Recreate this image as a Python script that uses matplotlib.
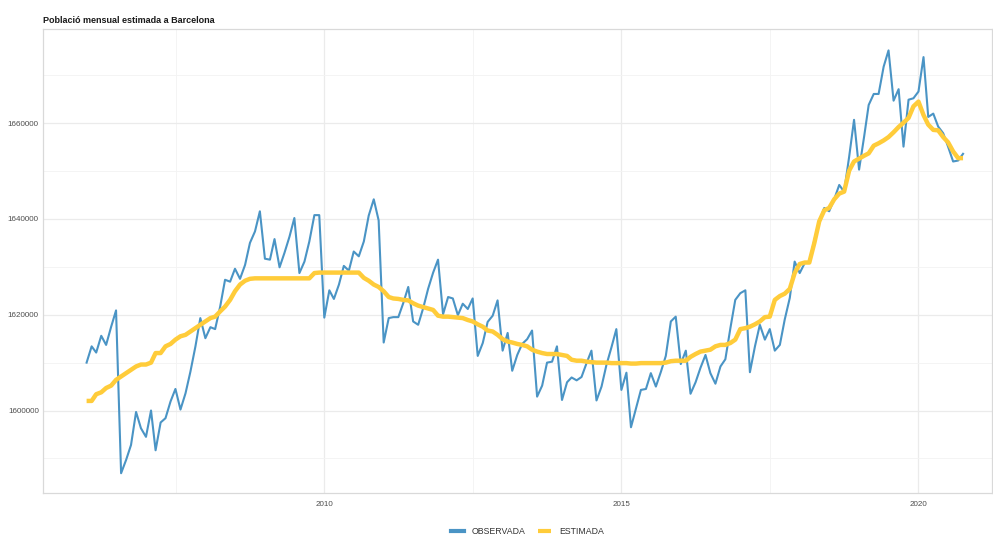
import matplotlib
matplotlib.use("Agg")
import matplotlib.pyplot as plt
import pandas as pd

plt.rcParams['font.family'] = ['Liberation Sans', 'DejaVu Sans']

# monthly series, Jan 2006 - Oct 2020
start_month = "2006-01-01"

observada = [
    1610000, 1613400, 1612100, 1615600, 1613700, 1617500, 1620900, 1586900, 1589700, 1592800, 1599700, 1596300,
    1594500, 1600000, 1591700, 1597500, 1598400, 1601900, 1604500, 1600200, 1603600, 1608100, 1613400, 1619300,
    1615100, 1617400, 1617000, 1621700, 1627300, 1626900, 1629600, 1627500, 1630400, 1635000, 1637400, 1641600,
    1631700, 1631500, 1635800, 1629900, 1632900, 1636300, 1640200, 1628700, 1631100, 1635300, 1640800, 1640800,
    1619400, 1625100, 1623300, 1626300, 1630200, 1629200, 1633200, 1632200, 1635300, 1640700, 1644100, 1639700,
    1614200, 1619300, 1619500, 1619500, 1622400, 1625800, 1618600, 1617900, 1621400, 1625400, 1628800, 1631500,
    1620100, 1623700, 1623400, 1619900, 1622300, 1621200, 1623400, 1611400, 1614100, 1618500, 1619800, 1623000,
    1612500, 1616200, 1608300, 1611600, 1613900, 1614900, 1616700, 1602900, 1605200, 1610000, 1610200, 1613400,
    1602200, 1605900, 1606900, 1606300, 1607000, 1609900, 1612500, 1602100, 1605000, 1609500, 1613200, 1617000,
    1604300, 1607900, 1596500, 1600500, 1604300, 1604500, 1607800, 1605000, 1608100, 1611400, 1618600, 1619600,
    1609700, 1612500, 1603500, 1605900, 1608900, 1611600, 1607800, 1605600, 1609200, 1610700, 1617200, 1623100,
    1624500, 1625100, 1608000, 1613400, 1617900, 1614800, 1617000, 1612500, 1613700, 1619000, 1623500, 1631100,
    1628700, 1630800, 1630900, 1635600, 1639500, 1642300, 1641600, 1644100, 1647100, 1645700, 1653000, 1660700,
    1650300, 1657200, 1663800, 1666100, 1666100, 1671800, 1675200, 1664700, 1667100, 1655100, 1664900, 1665200,
    1666600, 1673800, 1661300, 1662000, 1659300, 1657900, 1655100, 1652000, 1652200, 1653600,
]

estimada = [
    1602000, 1602000, 1603400, 1603800, 1604700, 1605200, 1606400, 1607100, 1607800, 1608500, 1609200, 1609600,
    1609600, 1610000, 1612000, 1612000, 1613400, 1613900, 1614800, 1615500, 1615800, 1616500, 1617200, 1617900,
    1618600, 1619300, 1619600, 1620700, 1621700, 1623100, 1624900, 1626300, 1627100, 1627500, 1627600, 1627600,
    1627600, 1627600, 1627600, 1627600, 1627600, 1627600, 1627600, 1627600, 1627600, 1627600, 1628700, 1628800,
    1628800, 1628800, 1628800, 1628800, 1628800, 1628800, 1628800, 1628800, 1627700, 1627100, 1626300, 1625800,
    1624900, 1623700, 1623400, 1623300, 1623100, 1623000, 1622400, 1621900, 1621600, 1621300, 1621000, 1619800,
    1619600, 1619600, 1619500, 1619400, 1619300, 1618900, 1618600, 1618000, 1617500, 1616700, 1616500, 1615800,
    1614900, 1614400, 1614200, 1613900, 1613700, 1613400, 1612700, 1612300, 1612000, 1611800, 1611800, 1611800,
    1611600, 1611400, 1610600, 1610400, 1610400, 1610200, 1610100, 1610000, 1610000, 1610000, 1609900, 1609900,
    1609900, 1609900, 1609800, 1609800, 1609900, 1609900, 1609900, 1609900, 1609900, 1610000, 1610300, 1610400,
    1610400, 1610400, 1611200, 1611800, 1612300, 1612500, 1612700, 1613400, 1613700, 1613700, 1614100, 1614800,
    1617000, 1617200, 1617500, 1618000, 1618600, 1619500, 1619600, 1623100, 1623900, 1624400, 1625400, 1628700,
    1630600, 1630900, 1630900, 1635000, 1639500, 1641800, 1642300, 1644100, 1645300, 1645700, 1650100, 1652000,
    1652600, 1653200, 1653700, 1655300, 1655800, 1656400, 1657100, 1658100, 1659200, 1660100, 1661100, 1663500,
    1664500, 1661700, 1659700, 1658600, 1658500, 1657100, 1656000, 1654100, 1652700, 1652700,
]

y_ticks = [1600000, 1620000, 1640000, 1660000]
y_minor = [1590000, 1610000, 1630000, 1650000, 1670000]
x_ticks = ["2010-01-01", "2015-01-01", "2020-01-01"]
x_minor = ["2007-07-02", "2012-07-02", "2017-07-02"]

dates = pd.date_range(start_month, periods=len(observada), freq="MS")

fig = plt.figure(figsize=(9.93, 5.34), dpi=100)
ax = fig.add_axes([0.0433, 0.077, 0.9557, 0.869])

ax.plot(dates, observada, color='#4A94C5', lw=1.5, label="OBSERVADA", zorder=3)
ax.plot(dates, estimada, color='#FFCC3A', lw=3.2, label="ESTIMADA", zorder=4,
        solid_capstyle='butt')

ax.set_xlim(pd.Timestamp("2005-04-08"), pd.Timestamp("2021-03-28"))
ax.set_ylim(1582800, 1679700)

ax.set_yticks(y_ticks)
ax.set_yticklabels([str(v) for v in y_ticks])
ax.set_yticks(y_minor, minor=True)
ax.set_xticks([pd.Timestamp(d) for d in x_ticks])
ax.set_xticklabels([d[:4] for d in x_ticks])
ax.set_xticks([pd.Timestamp(d) for d in x_minor], minor=True)

ax.grid(which='major', color='#EBEBEB', lw=0.9)
ax.grid(which='minor', color='#F3F3F3', lw=0.6)
ax.set_axisbelow(True)

ax.tick_params(which='both', length=0, labelsize=5.8, colors='#4D4D4D')
ax.tick_params(axis='y', pad=3)
ax.tick_params(axis='x', pad=6)
for s in ax.spines.values():
    s.set_color('#D9D9D9')
    s.set_linewidth(0.9)

fig.text(0.0433, 0.953, "Població mensual estimada a Barcelona", fontsize=6.5,
         fontweight='bold', color='#1A1A1A', ha='left', va='bottom')

leg = fig.legend(loc='lower center', ncol=2, bbox_to_anchor=(0.531, -0.018), frameon=False,
                 fontsize=6.3, handlelength=1.5, handletextpad=0.9, columnspacing=1.4,
                 labelcolor='#333333')
for h in leg.get_lines():
    h.set_linewidth(3.0)

fig.savefig("out.png", dpi=100)
